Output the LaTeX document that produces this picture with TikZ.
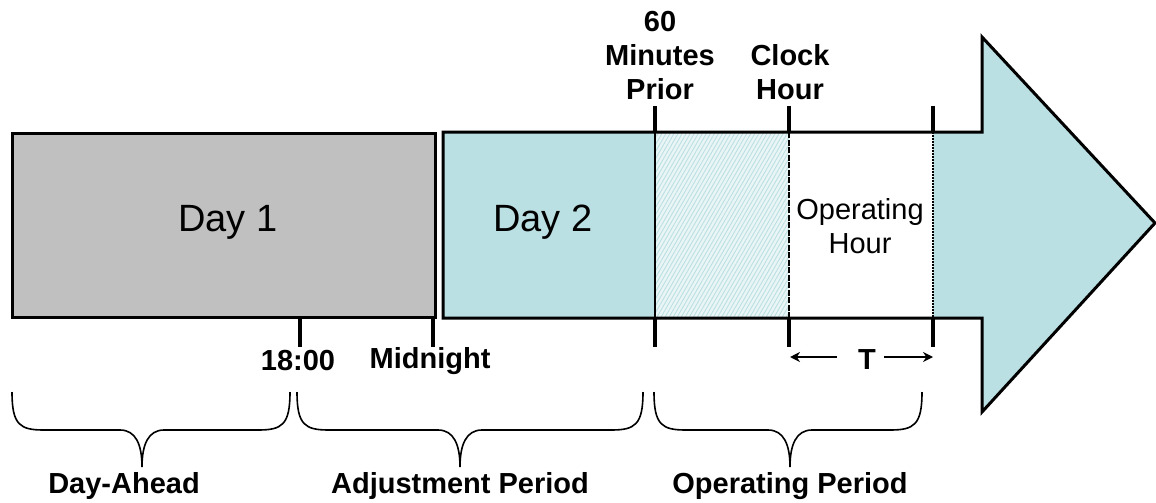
\documentclass[tikz,border=0pt]{standalone}
\usepackage{fontspec}
\setmainfont{Liberation Sans}
\usetikzlibrary{arrows.meta,patterns.meta}
\definecolor{dgray}{HTML}{C0C0C0}
\definecolor{teal1}{HTML}{BBE0E3}
\definecolor{hatch}{HTML}{EAF5F6}
\tikzset{
  bold lbl/.style={font=\fontsize{29}{34}\selectfont\bfseries, align=center, inner sep=0pt},
  tick/.style={line width=4pt},
  brace/.style={line width=1.6pt},
  tarrow/.style={line width=2.5pt, -{Stealth[length=10pt,width=10pt]}},
}
\begin{document}
\begin{tikzpicture}[x=1pt,y=-1pt]
\useasboundingbox (0,0) rectangle (1156,503);
% Day 1 box
\draw[fill=dgray, line width=3pt] (12,133) rectangle (435,317);
% arrow shape
\fill[teal1] (443,132) -- (982,132) -- (982,37) -- (1155,223) -- (982,412) -- (982,318) -- (443,318) -- cycle;
\fill[hatch] (655,132) rectangle (789,318);
\fill[pattern={Lines[angle=60,distance=3.5pt,line width=0.9pt]}, pattern color=teal1] (655,132) rectangle (789,318);
\fill[white] (789,132) rectangle (933,318);
\draw[line width=1.5pt] (655,132) -- (655,318);
\draw[line width=2pt, dash pattern=on 6pt off 1.5pt] (789,132) -- (789,318);
\draw[line width=1.2pt, dash pattern=on 2pt off 1pt] (933,132) -- (933,318);
\draw[line width=3pt, line join=miter] (443,132) -- (982,132) -- (982,37) -- (1155,223) -- (982,412) -- (982,318) -- (443,318) -- cycle;
% ticks
\foreach \x in {655,789,933} {
  \draw[tick] (\x,106) -- (\x,132);
  \draw[tick] (\x,318) -- (\x,347);
}
\draw[tick] (300,317) -- (300,347);
\draw[tick] (433,317) -- (433,347);
% box texts
\node[font=\fontsize{38}{40}\selectfont, inner sep=0pt] (d1) at (228,222) {Day 1};
\node[font=\fontsize{38}{40}\selectfont, inner sep=0pt] (d2) at (543,222) {Day 2};
\node[font=\fontsize{29}{34}\selectfont, align=center, inner sep=0pt] (oh) at (860,226) {Operating\\Hour};
% top labels
\node[bold lbl, anchor=south] (t60) at (660,100) {60\\Minutes\\Prior};
\node[bold lbl, anchor=south] (tclock) at (790,100) {Clock\\Hour};
% bottom tick labels
\node[bold lbl] (t18) at (298,361) {18:00};
\node[bold lbl] (tmid) at (430,361) {Midnight};
% T interval
\node[bold lbl] (tT) at (867,360) {T};
\coordinate (cL) at (790,357);
\coordinate (cR) at (933,357);
\draw[tarrow] ([xshift=-21pt]tT.west |- cL) -- (cL);
\draw[tarrow] ([xshift=8pt]tT.east |- cR) -- (cR);
% braces
\foreach \a/\m/\b in {12/142/290, 297/460/643, 654/790/922} {
  \draw[brace] (\a,392) .. controls (\a,425) and (\a+8,430) .. (\a+32,430)
     -- (\m-22,430) .. controls (\m-6,430) and (\m,445) .. (\m,467)
     .. controls (\m,445) and (\m+6,430) .. (\m+22,430)
     -- (\b-32,430) .. controls (\b-8,430) and (\b,425) .. (\b,392);
}
\node[bold lbl] (lda) at (124,486) {Day-Ahead};
\node[bold lbl] (ladj) at (460,486) {Adjustment Period};
\node[bold lbl] (lop) at (790,486) {Operating Period};
\end{tikzpicture}
\end{document}
